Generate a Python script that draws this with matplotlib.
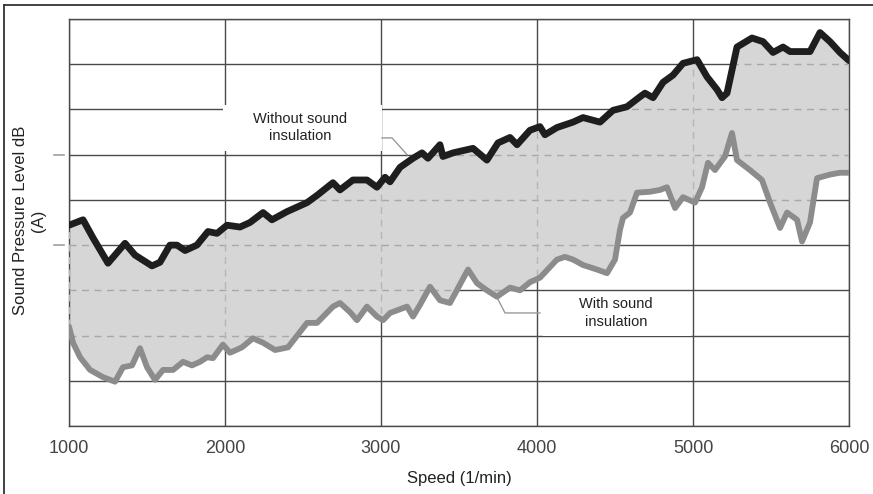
import numpy as np
import matplotlib
matplotlib.use("Agg")
import matplotlib.pyplot as plt
from matplotlib.patches import Rectangle
from matplotlib.lines import Line2D

plt.rcParams['font.family'] = ['Liberation Sans', 'DejaVu Sans']

# Without sound insulation (speed 1/min, level dB(A) - arbitrary offset scale)
speed_without = [1000, 1090, 1154, 1250, 1359, 1423, 1532, 1583, 1647, 1692, 1744, 1820,
                 1891, 1949, 2013, 2096, 2160, 2244, 2301, 2397, 2526, 2590, 2692, 2737,
                 2820, 2910, 2974, 3026, 3058, 3122, 3205, 3263, 3301, 3378, 3397, 3462,
                 3590, 3679, 3750, 3827, 3872, 3955, 4019, 4051, 4128, 4231, 4295, 4404,
                 4487, 4577, 4660, 4692, 4744, 4808, 4872, 4936, 5026, 5090, 5154, 5186,
                 5218, 5282, 5378, 5449, 5513, 5577, 5622, 5750, 5814, 5878, 5942, 6000]
level_without = [72.2, 72.8, 70.8, 68.0, 70.2, 68.9, 67.7, 68.1, 70.0, 70.0, 69.4, 70.0,
                 71.5, 71.3, 72.2, 72.0, 72.5, 73.6, 72.8, 73.7, 74.7, 75.5, 76.9, 76.1,
                 77.2, 77.2, 76.4, 77.5, 77.0, 78.6, 79.6, 80.2, 79.6, 81.1, 79.8, 80.2,
                 80.7, 79.4, 81.3, 81.9, 81.1, 82.7, 83.1, 82.2, 83.0, 83.6, 84.1, 83.6,
                 84.9, 85.3, 86.4, 86.8, 86.3, 88.0, 88.8, 90.1, 90.5, 88.6, 87.2, 86.3,
                 86.8, 91.9, 92.9, 92.5, 91.3, 91.9, 91.4, 91.4, 93.5, 92.5, 91.3, 90.4]

# With sound insulation
speed_with = [1000, 1026, 1071, 1135, 1218, 1295, 1346, 1404, 1455, 1500, 1551, 1603,
              1667, 1731, 1788, 1840, 1885, 1923, 1987, 2032, 2109, 2179, 2244, 2321,
              2404, 2526, 2590, 2692, 2737, 2801, 2846, 2910, 2974, 3013, 3058, 3167,
              3205, 3250, 3314, 3378, 3442, 3558, 3615, 3679, 3743, 3827, 3891, 3955,
              4019, 4128, 4179, 4231, 4295, 4384, 4449, 4500, 4532, 4551, 4596, 4641,
              4724, 4788, 4833, 4885, 4936, 5013, 5058, 5096, 5141, 5205, 5250, 5282,
              5365, 5442, 5494, 5558, 5603, 5667, 5699, 5750, 5795, 5878, 5942, 6000]
level_with = [61.0, 59.2, 57.6, 56.2, 55.4, 54.9, 56.5, 56.7, 58.6, 56.5, 55.1, 56.2,
              56.2, 57.1, 56.7, 57.1, 57.6, 57.5, 59.0, 58.1, 58.7, 59.7, 59.2, 58.4,
              58.7, 61.4, 61.4, 63.2, 63.6, 62.6, 61.7, 63.2, 62.1, 61.7, 62.5, 63.2,
              62.1, 63.4, 65.4, 63.9, 63.6, 67.3, 65.8, 65.0, 64.3, 65.3, 65.0, 65.9,
              66.4, 68.4, 68.7, 68.4, 67.8, 67.3, 66.9, 68.4, 71.7, 73.0, 73.6, 75.8,
              75.9, 76.1, 76.4, 74.1, 75.3, 74.7, 76.4, 79.1, 78.3, 79.8, 82.4, 79.4,
              78.3, 77.2, 74.7, 71.9, 73.6, 72.8, 70.4, 72.5, 77.4, 77.8, 78.0, 78.0]

x_ticks = [1000, 2000, 3000, 4000, 5000, 6000]
y_grid = [50, 55, 60, 65, 70, 75, 80, 85, 90, 95]
y_marks = [70, 80]

label_without = "Without sound\ninsulation"
label_with = "With sound\ninsulation"

fig = plt.figure(figsize=(8.73, 4.94), dpi=100)
ax = fig.add_axes([69/873, 68/494, 780/873, 407/494])
ax.set_xlim(1000, 6000)
ax.set_ylim(50, 95)

grid_col = '#4a4a4a'
for y in y_grid:
    ax.axhline(y, color=grid_col, lw=1.0, zorder=1)
for x in x_ticks:
    ax.axvline(x, color=grid_col, lw=1.0, zorder=1)

# shaded band between the two curves
poly_x = np.concatenate([speed_without, speed_with[::-1]])
poly_y = np.concatenate([level_without, level_with[::-1]])
band = ax.fill(poly_x, poly_y, color='#d6d6d6', lw=0, zorder=2)[0]

# gridlines seen faintly through the band (dashed)
for y in y_grid:
    l = ax.axhline(y, color='#a8a8a8', lw=1.0, ls=(0, (5, 4)), zorder=3)
    l.set_clip_path(band)
for x in x_ticks:
    l = ax.axvline(x, color='#b5b5b5', lw=1.0, ls=(0, (5, 4)), zorder=3)
    l.set_clip_path(band)

ax.plot(speed_with, level_with, color='#8c8c8c', lw=4.2, zorder=5,
        solid_joinstyle='round', solid_capstyle='round')
ax.plot(speed_without, level_without, color='#1e1e1e', lw=4.9, zorder=6,
        solid_joinstyle='round', solid_capstyle='round')

# annotation boxes and labels
ax.add_patch(Rectangle((1985, 80.4), 1020, 5.1, facecolor='white', edgecolor='none', zorder=4))
ax.text(2480, 83.0, label_without, ha='center', va='center', fontsize=10.5, color='#222222',
        linespacing=1.3, zorder=7)
ax.plot([3006, 3071, 3167], [81.85, 81.85, 80.0], color='#9a9a9a', lw=1.0, zorder=4.5)

ax.add_patch(Rectangle((4040, 59.9), 950, 4.9, facecolor='white', edgecolor='none', zorder=4))
ax.text(4505, 62.5, label_with, ha='center', va='center', fontsize=10.5, color='#222222',
        linespacing=1.3, zorder=7)
ax.plot([3744, 3795, 4019], [64.2, 62.5, 62.5], color='#9a9a9a', lw=1.0, zorder=4.5)

# axes styling
ax.set_xticks(x_ticks)
ax.set_xticklabels([str(v) for v in x_ticks], fontsize=13, color='#444444')
ax.tick_params(axis='x', length=0, pad=10)
ax.set_yticks([])
for ym in y_marks:
    ax.plot([-0.019, -0.006], [ym, ym], transform=ax.get_yaxis_transform(),
            color='#a0a0a0', lw=1.2, clip_on=False)
for s in ax.spines.values():
    s.set_color(grid_col)
    s.set_linewidth(1.0)

ax.set_xlabel("Speed (1/min)", fontsize=12, color='#222222', labelpad=10)
ax.set_ylabel("Sound Pressure Level dB\n(A)", fontsize=12, color='#222222',
              linespacing=1.3)
ax.yaxis.set_label_coords(-0.029, 0.505)

# figure border (left and top only, as in the cropped scan)
fig.add_artist(Line2D([4/873, 4/873], [0, 489/494], transform=fig.transFigure,
                      color='#333333', lw=1.3))
fig.add_artist(Line2D([4/873, 1], [489/494, 489/494], transform=fig.transFigure,
                      color='#333333', lw=1.3))

fig.savefig("out.png", dpi=100)
